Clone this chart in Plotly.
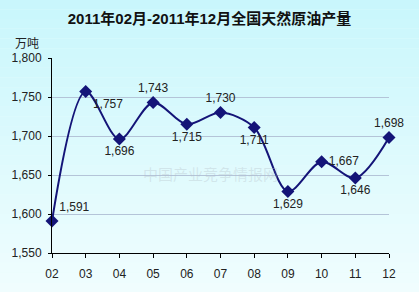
import plotly.graph_objects as go

months = ["02", "03", "04", "05", "06", "07", "08", "09", "10", "11", "12"]
output = [1591, 1757, 1696, 1743, 1715, 1730, 1711, 1629, 1667, 1646, 1698]
label_pos = ["top right", "bottom right", "bottom center", "top center", "bottom center",
             "top center", "bottom center", "bottom center", "middle right", "bottom center", "top center"]
y_ticks = [1550, 1600, 1650, 1700, 1750, 1800]

xs = list(range(len(months)))

fig = go.Figure()

# background gradient
shapes = []
n = 40
top = (196, 246, 252)
bot = (248, 255, 255)
for i in range(n):
    t = i / (n - 1)
    c = tuple(int(top[k] + (bot[k] - top[k]) * t) for k in range(3))
    shapes.append(dict(type="rect", xref="paper", yref="paper", layer="below",
                       x0=-1, x1=2, y0=1.5 - (i + 1) * (2.0 / n), y1=1.5 - i * (2.0 / n),
                       fillcolor="rgb(%d,%d,%d)" % c, line=dict(width=0)))

fig.add_trace(go.Scatter(
    x=xs, y=output, mode="lines+markers+text",
    line=dict(color="#141478", width=2, shape="spline", smoothing=0.9),
    marker=dict(symbol="diamond", size=10, color="#141478"),
    text=[f"{v:,}" for v in output], textposition=label_pos,
    textfont=dict(size=12, color="#222222", family="Liberation Sans, Arial, sans-serif"),
    cliponaxis=False, hoverinfo="skip",
))

fig.update_layout(
    width=419, height=292,
    margin=dict(l=52, r=30, t=58, b=39),
    paper_bgcolor="#e6fcfd", plot_bgcolor="rgba(0,0,0,0)",
    showlegend=False,
    shapes=shapes,
    font=dict(family="Liberation Sans, Arial, Noto Sans CJK SC, sans-serif", size=12, color="#222222"),
    title=dict(text="<b>2011年02月-2011年12月全国天然原油产量</b>", x=0.5, xanchor="center",
               y=0.935, yanchor="middle", font=dict(size=15, color="#111111",
               family="Liberation Sans, Arial, Noto Sans CJK SC, sans-serif")),
    annotations=[
        dict(text="万吨", xref="paper", yref="paper", x=-0.075, y=1.08, xanchor="center",
             yanchor="middle", showarrow=False, font=dict(size=12, color="#222222",
             family="Noto Sans CJK SC, sans-serif")),
        dict(text="中国产业竞争情报网", xref="paper", yref="paper", x=0.47, y=0.41,
             showarrow=False, font=dict(size=15, color="rgba(180,190,200,0.35)",
             family="Noto Sans CJK SC, sans-serif")),
    ],
)

fig.update_xaxes(
    range=[0, 10], tickvals=xs, ticktext=months, showgrid=False, zeroline=False,
    showline=True, linecolor="#000000", linewidth=1, ticks="outside", ticklen=4,
    tickcolor="#000000", tickfont=dict(size=12), ticklabelstandoff=6,
)
fig.update_yaxes(
    range=[1550, 1800], tickvals=y_ticks, tickformat=",", showgrid=True,
    gridcolor="#b4c4d8", gridwidth=1, zeroline=False, showline=True,
    linecolor="#000000", linewidth=1, ticks="outside", ticklen=3, tickcolor="#000000",
    tickfont=dict(size=12), ticklabelstandoff=4,
)

fig.write_html("out.html")
